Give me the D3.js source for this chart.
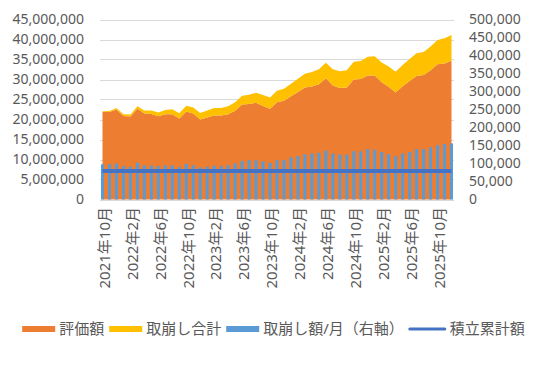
<!DOCTYPE html>
<html>
<head>
<meta charset="utf-8">
<script src="https://cdn.jsdelivr.net/npm/d3@7"></script>
<style>
  body { margin: 0; background: #fff; }
  text { font-family: "Noto Sans", "Noto Sans CJK JP", sans-serif; fill: #595959; }
</style>
</head>
<body>
<svg id="chart" width="538" height="372"></svg>
<script>
// months 2021/10 .. 2025/12
var months = [
  "2021年10月", "2021年11月", "2021年12月",
  "2022年1月", "2022年2月", "2022年3月", "2022年4月", "2022年5月", "2022年6月",
  "2022年7月", "2022年8月", "2022年9月", "2022年10月", "2022年11月", "2022年12月",
  "2023年1月", "2023年2月", "2023年3月", "2023年4月", "2023年5月", "2023年6月",
  "2023年7月", "2023年8月", "2023年9月", "2023年10月", "2023年11月", "2023年12月",
  "2024年1月", "2024年2月", "2024年3月", "2024年4月", "2024年5月", "2024年6月",
  "2024年7月", "2024年8月", "2024年9月", "2024年10月", "2024年11月", "2024年12月",
  "2025年1月", "2025年2月", "2025年3月", "2025年4月", "2025年5月", "2025年6月",
  "2025年7月", "2025年8月", "2025年9月", "2025年10月", "2025年11月", "2025年12月"
];

// 評価額 (yen)
var valuation = [
  21900000, 21900000, 22500000, 20900000, 20750000, 22700000, 21500000, 21400000, 20800000,
  21300000, 21300000, 20250000, 22000000, 21500000, 20000000, 20500000, 21000000, 21000000,
  21300000, 22200000, 23750000, 23900000, 24200000, 23400000, 22700000, 24300000, 24700000,
  25800000, 26900000, 28000000, 28250000, 28800000, 30300000, 28500000, 27900000, 28000000,
  30000000, 30100000, 31000000, 31000000, 29300000, 28200000, 26750000, 28300000, 29600000,
  30900000, 31100000, 32300000, 33800000, 34000000, 34700000
];

// 取崩し合計 (yen, stacked on top of 評価額)
var withdrawnTotal = [
  150000, 220000, 350000, 400000, 500000, 600000, 750000, 850000, 950000,
  1100000, 1250000, 1300000, 1450000, 1500000, 1600000, 1750000, 1850000, 1900000,
  2000000, 2100000, 2200000, 2300000, 2500000, 2700000, 2800000, 2900000, 3000000,
  3150000, 3300000, 3450000, 3600000, 3750000, 3900000, 4050000, 4150000, 4300000,
  4450000, 4550000, 4700000, 4800000, 4950000, 5050000, 5200000, 5350000, 5500000,
  5650000, 5800000, 5950000, 6100000, 6300000, 6450000
];

// 取崩し額/月 (yen, right axis)
var withdrawMonthly = [
  98000, 98000, 100000, 93000, 91000, 102000, 95000, 95000, 93000,
  95000, 95000, 90000, 99000, 95000, 89000, 91000, 94000, 93000,
  95000, 100000, 107000, 109000, 109000, 106000, 102000, 109000, 110000,
  117000, 121000, 125000, 128000, 130000, 136000, 128000, 125000, 125000,
  134000, 134000, 140000, 138000, 132000, 126000, 120000, 128000, 132000,
  140000, 140000, 145000, 151000, 154000, 156000
];

// 積立累計額 (yen)
var invested = [
  7150000, 7150000, 7150000, 7150000, 7150000, 7150000, 7150000, 7150000, 7150000,
  7150000, 7150000, 7150000, 7150000, 7150000, 7150000, 7150000, 7150000, 7150000,
  7150000, 7150000, 7150000, 7150000, 7150000, 7150000, 7150000, 7150000, 7150000,
  7150000, 7150000, 7150000, 7150000, 7150000, 7150000, 7150000, 7150000, 7150000,
  7150000, 7150000, 7150000, 7150000, 7150000, 7150000, 7150000, 7150000, 7150000,
  7150000, 7150000, 7150000, 7150000, 7150000, 7150000
];

var leftTicks = [0, 5000000, 10000000, 15000000, 20000000, 25000000, 30000000, 35000000, 40000000, 45000000];
var rightTicks = [0, 50000, 100000, 150000, 200000, 250000, 300000, 350000, 400000, 450000, 500000];
var labelEvery = 4;

var legendItems = [
  {name: "評価額", color: "#ED7D31", kind: "box"},
  {name: "取崩し合計", color: "#FFC000", kind: "box"},
  {name: "取崩し額/月（右軸）", color: "#5B9BD5", kind: "box"},
  {name: "積立累計額", color: "#4472C4", kind: "line"}
];

var svg = d3.select("#chart"),
    plotLeft = 102.5, plotRight = 451.5,
    plotTop = 19.5, plotBottom = 199.5,
    numSize = 14, cjkSize = 15;

var x = d3.scaleLinear().domain([0, months.length - 1]).range([plotLeft, plotRight]);
var yLeft = d3.scaleLinear().domain([0, 45000000]).range([plotBottom, plotTop]);
var yRight = d3.scaleLinear().domain([0, 500000]).range([plotBottom, plotTop]);
var fmt = d3.format(",");

// gridlines
svg.append("g").selectAll("line")
    .data(leftTicks)
    .enter().append("line")
        .attr("x1", 100).attr("x2", 454)
        .attr("y1", function(d) { return Math.round(yLeft(d)) + 0.5; })
        .attr("y2", function(d) { return Math.round(yLeft(d)) + 0.5; })
        .attr("stroke", "#D9D9D9").attr("stroke-width", 1);

// stacked areas
var idx = d3.range(months.length);
var areaValuation = d3.area()
    .x(function(i) { return x(i); })
    .y0(yLeft(0))
    .y1(function(i) { return yLeft(valuation[i]); });
var areaWithdrawn = d3.area()
    .x(function(i) { return x(i); })
    .y0(function(i) { return yLeft(valuation[i]); })
    .y1(function(i) { return yLeft(valuation[i] + withdrawnTotal[i]); });

svg.append("path").datum(idx).attr("d", areaValuation).attr("fill", "#ED7D31");
svg.append("path").datum(idx).attr("d", areaWithdrawn).attr("fill", "#FFC000");

// monthly bars on right axis
var barWidth = 3;
svg.append("g").selectAll("rect")
    .data(withdrawMonthly)
    .enter().append("rect")
        .attr("x", function(d, i) { return x(i) - barWidth / 2; })
        .attr("y", function(d) { return yRight(d); })
        .attr("width", barWidth)
        .attr("height", function(d) { return yRight(0) - yRight(d); })
        .attr("fill", "#5B9BD5");

// invested line
svg.append("path")
    .datum(idx)
    .attr("d", d3.line().x(function(i) { return x(i); }).y(function(i) { return yLeft(invested[i]); }))
    .attr("fill", "none")
    .attr("stroke", "#4472C4")
    .attr("stroke-width", 4);

// left axis labels
svg.append("g").selectAll("text")
    .data(leftTicks)
    .enter().append("text")
        .attr("x", 84)
        .attr("y", function(d) { return yLeft(d); })
        .attr("dy", "0.35em")
        .attr("text-anchor", "end")
        .style("font-size", numSize + "px")
        .text(fmt);

// right axis labels
svg.append("g").selectAll("text")
    .data(rightTicks)
    .enter().append("text")
        .attr("x", 469)
        .attr("y", function(d) { return yRight(d); })
        .attr("dy", "0.35em")
        .attr("text-anchor", "start")
        .style("font-size", numSize + "px")
        .text(fmt);

// category labels, rotated
svg.append("g").selectAll("text")
    .data(months.filter(function(m, i) { return i % labelEvery === 0; }))
    .enter().append("text")
        .attr("transform", function(d, i) {
            return "translate(" + (x(i * labelEvery) + 2) + ",207) rotate(-90)";
        })
        .attr("dy", "0.35em")
        .attr("text-anchor", "end")
        .style("font-size", cjkSize + "px")
        .text(function(d) { return d; });

// legend
var legend = svg.append("g"), cursor = 0, legendY = 329;
legendItems.forEach(function(item) {
    if (item.kind === "box") {
        legend.append("rect")
            .attr("x", cursor).attr("y", legendY - 3)
            .attr("width", 33).attr("height", 6)
            .attr("fill", item.color);
    } else {
        legend.append("line")
            .attr("x1", cursor + 1).attr("x2", cursor + 36)
            .attr("y1", legendY).attr("y2", legendY)
            .attr("stroke", item.color).attr("stroke-width", 3)
            .attr("stroke-linecap", "round");
    }
    cursor += (item.kind === "box" ? 33 : 37) + 4;
    var t = legend.append("text")
        .attr("x", cursor).attr("y", legendY)
        .attr("dy", "0.35em")
        .style("font-size", cjkSize + "px")
        .text(item.name);
    cursor += t.node().getComputedTextLength() + 5;
});
legend.attr("transform", "translate(" + (273.5 - (cursor - 5) / 2) + ",0)");
</script>
</body>
</html>
